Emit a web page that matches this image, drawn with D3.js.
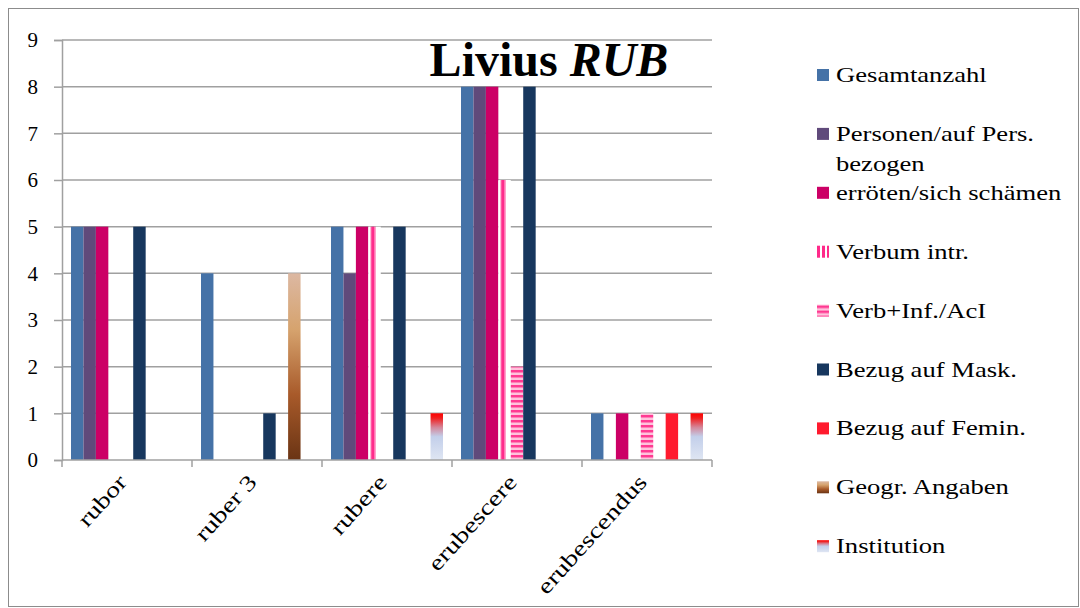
<!DOCTYPE html>
<html>
<head>
<meta charset="utf-8">
<script src="https://cdn.jsdelivr.net/npm/d3@7"></script>
<style>
  html, body { margin: 0; padding: 0; background: #fff; }
  svg { display: block; font-family: "Liberation Serif", "Times New Roman", serif; }
</style>
</head>
<body>
<svg id="chart" width="1080" height="608"></svg>
<script>
// Word forms of the RUB stem in Livius
const categories = ["rubor", "ruber 3", "rubere", "erubescere", "erubescendus"];
const seriesNames = [
  "Gesamtanzahl",
  "Personen/auf Pers. bezogen",
  "erröten/sich schämen",
  "Verbum intr.",
  "Verb+Inf./AcI",
  "Bezug auf Mask.",
  "Bezug auf Femin.",
  "Geogr. Angaben",
  "Institution"
];
const gesamtanzahl   = [5, 4, 5, 8, 1];
const personen       = [5, 0, 4, 8, 0];
const erroeten       = [5, 0, 5, 8, 1];
const verbumIntr     = [0, 0, 5, 6, 0];
const verbInfAcI     = [0, 0, 0, 2, 1];
const bezugMask      = [5, 1, 5, 8, 0];
const bezugFemin     = [0, 0, 0, 0, 1];
const geogrAngaben   = [0, 4, 0, 0, 0];
const institution    = [0, 0, 1, 0, 1];
const yTicks = [0, 1, 2, 3, 4, 5, 6, 7, 8, 9];
const titleMain = "Livius ";
const titleItalic = "RUB";

const seriesValues = [gesamtanzahl, personen, erroeten, verbumIntr, verbInfAcI,
                      bezugMask, bezugFemin, geogrAngaben, institution];

const svg = d3.select("#chart");
const defs = svg.append("defs");

// --- fills -------------------------------------------------------------
// vertical stripes inside each bar (tile = bar bounding box)
const vStripe = defs.append("pattern").attr("id", "vstripe")
  .attr("patternUnits", "objectBoundingBox").attr("width", 1).attr("height", 1);
vStripe.append("rect").attr("width", 13).attr("height", 500).attr("fill", "#fff");
vStripe.append("rect").attr("x", 2).attr("width", 1.2).attr("height", 500).attr("fill", "#ff9cc8");
vStripe.append("rect").attr("x", 3).attr("width", 3.4).attr("height", 500).attr("fill", "#ff2a8a");
vStripe.append("rect").attr("x", 6.4).attr("width", 1.2).attr("height", 500).attr("fill", "#ff9cc8");

const vStripeLeg = defs.append("pattern").attr("id", "vstripeLeg")
  .attr("patternUnits", "userSpaceOnUse").attr("width", 5).attr("height", 20);
vStripeLeg.append("rect").attr("width", 5).attr("height", 20).attr("fill", "#ffffff");
vStripeLeg.append("rect").attr("width", 3).attr("height", 20).attr("fill", "#ff2a8a");

const hStripe = defs.append("pattern").attr("id", "hstripe")
  .attr("patternUnits", "userSpaceOnUse").attr("width", 20).attr("height", 5);
hStripe.append("rect").attr("width", 20).attr("height", 5).attr("fill", "#ffc2dc");
hStripe.append("rect").attr("width", 20).attr("height", 2.5).attr("fill", "#ff3a92");

const geoGrad = defs.append("linearGradient").attr("id", "geoGrad")
  .attr("x1", 0).attr("y1", 0).attr("x2", 0).attr("y2", 1);
[[0, "#dcb8a2"], [0.3, "#d6a36e"], [0.65, "#a85a2a"], [1, "#6a3414"]]
  .forEach(([o, c]) => geoGrad.append("stop").attr("offset", o).attr("stop-color", c));

const instGrad = defs.append("linearGradient").attr("id", "instGrad")
  .attr("x1", 0).attr("y1", 0).attr("x2", 0).attr("y2", 1);
[[0, "#ff0000"], [0.1, "#f01e1e"], [0.3, "#d4879a"], [0.5, "#c3cfea"], [1, "#dfe6f3"]]
  .forEach(([o, c]) => instGrad.append("stop").attr("offset", o).attr("stop-color", c));

const fills = ["#4572a7", "#604a7b", "#cc0066", "url(#vstripe)", "url(#hstripe)",
               "#17375e", "#ff1a2e", "url(#geoGrad)", "url(#instGrad)"];
const legendFills = ["#4572a7", "#604a7b", "#cc0066", "url(#vstripeLeg)", "url(#hstripe)",
                     "#17375e", "#ff1a2e", "url(#geoGrad)", "url(#instGrad)"];

// --- frame -------------------------------------------------------------
svg.append("rect").attr("x", 8.5).attr("y", 8.5).attr("width", 1070).attr("height", 598)
  .attr("fill", "none").attr("stroke", "#8c8c8c").attr("stroke-width", 1);

// --- scales ------------------------------------------------------------
const plot = { left: 62, right: 712, top: 40, bottom: 460 };
const x0 = d3.scaleBand().domain(categories).range([plot.left, plot.right]);
const x1 = d3.scaleBand().domain(seriesNames).range([9, x0.bandwidth() - 9]);
const y = d3.scaleLinear().domain([0, 9]).range([plot.bottom, plot.top]);

// gridlines
svg.append("g").selectAll("line").data(yTicks.filter(d => d > 0)).join("line")
  .attr("x1", plot.left).attr("x2", plot.right)
  .attr("y1", d => y(d)).attr("y2", d => y(d))
  .attr("stroke", "#a0a0a0").attr("stroke-width", 1.5);

// bars
const groups = svg.append("g").selectAll("g").data(categories).join("g")
  .attr("transform", c => `translate(${x0(c)},0)`);
groups.selectAll("rect")
  .data((c, ci) => seriesNames.map((s, si) => ({ s, si, v: seriesValues[si][ci] })).filter(d => d.v > 0))
  .join("rect")
  .attr("x", d => x1(d.s))
  .attr("width", x1.bandwidth())
  .attr("y", d => y(d.v))
  .attr("height", d => y(0) - y(d.v))
  .attr("fill", d => fills[d.si]);

// y axis
const yAxis = svg.append("g").attr("transform", `translate(${plot.left},0)`)
  .call(d3.axisLeft(y).tickValues(yTicks).tickSize(8).tickPadding(16).tickFormat(d3.format("d")))
  .attr("font-family", "Liberation Serif").attr("font-size", 21);
yAxis.select(".domain").attr("stroke", "#a0a0a0").attr("stroke-width", 1.5);
yAxis.selectAll(".tick line").attr("stroke", "#a0a0a0").attr("stroke-width", 1.5);
yAxis.selectAll(".tick text").attr("fill", "#000");

// x axis
const xAxisG = svg.append("g").attr("transform", `translate(0,${plot.bottom})`);
xAxisG.append("line").attr("x1", plot.left).attr("x2", plot.right)
  .attr("stroke", "#a0a0a0").attr("stroke-width", 1.5);
const boundaries = categories.map(c => x0(c)).concat([plot.right]);
xAxisG.selectAll(".xt").data(boundaries).join("line").attr("class", "xt")
  .attr("x1", d => d).attr("x2", d => d).attr("y1", 0).attr("y2", 7)
  .attr("stroke", "#a0a0a0").attr("stroke-width", 1.5);
xAxisG.selectAll("text").data(categories).join("text")
  .attr("transform", c => `translate(${x0(c) + x0.bandwidth() / 2 + 1},${23}) rotate(-48) scale(1.28,1)`)
  .attr("text-anchor", "end")
  .attr("font-size", 22).attr("fill", "#000")
  .text(c => c);

// title
const title = svg.append("text").attr("x", 549).attr("y", 76).attr("text-anchor", "middle")
  .attr("font-size", 48).attr("font-weight", "bold").attr("fill", "#000");
title.append("tspan").text(titleMain);
title.append("tspan").attr("font-style", "italic").text(titleItalic);

// legend
const legend = svg.append("g");
const rowY = i => 75 + i * 58.9;
const leg = legend.selectAll("g").data(seriesNames).join("g")
  .attr("transform", (d, i) => `translate(817,${rowY(i)})`);
leg.append("rect").attr("x", 0).attr("y", -6).attr("width", 12).attr("height", 12)
  .attr("fill", (d, i) => legendFills[i]);
leg.append("text").attr("transform", "translate(19,7) scale(1.21,1)")
  .attr("font-size", 22).attr("fill", "#000")
  .each(function (d) {
    const t = d3.select(this);
    if (d === "Personen/auf Pers. bezogen") {
      t.append("tspan").attr("x", 0).text("Personen/auf Pers.");
      t.append("tspan").attr("x", 0).attr("dy", 30).text("bezogen");
    } else {
      t.text(d);
    }
  });
</script>
</body>
</html>
